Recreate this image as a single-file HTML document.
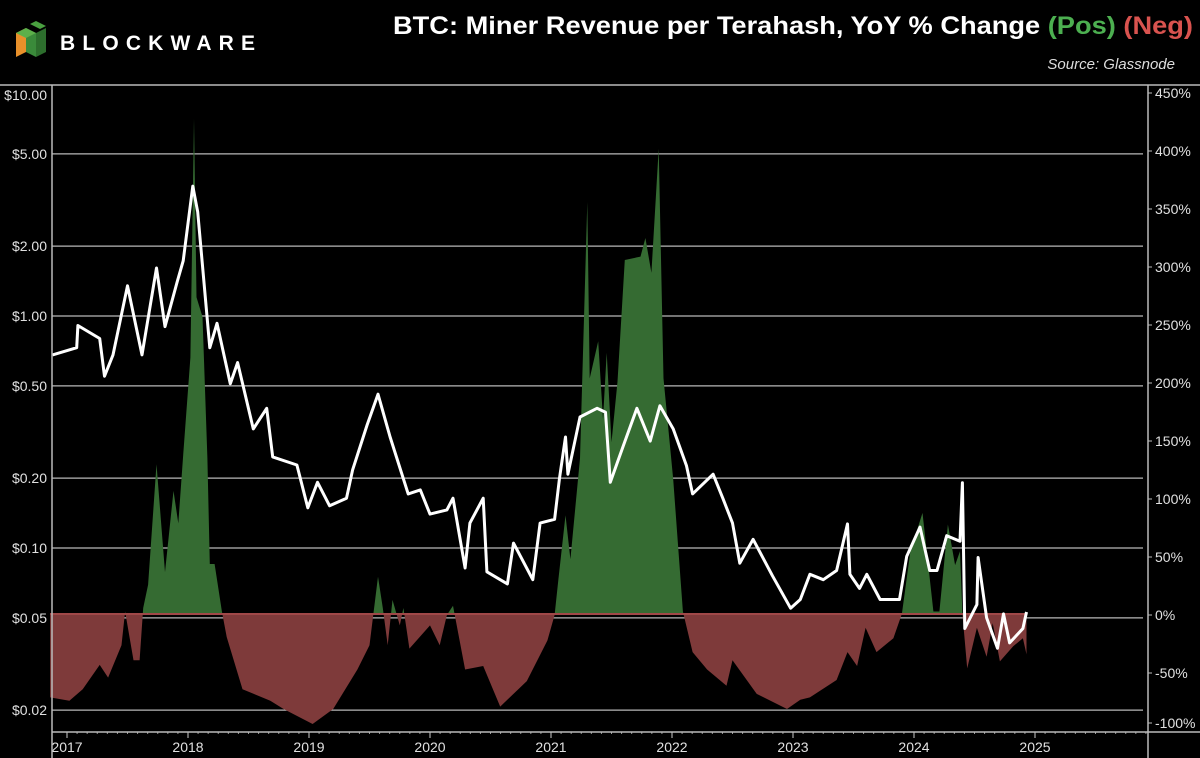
<!DOCTYPE html>
<html><head><meta charset="utf-8"><style>
html,body{margin:0;padding:0;background:#000;}
svg{display:block;font-family:"Liberation Sans",sans-serif;}
</style></head><body>
<svg id="chart" width="1200" height="758" viewBox="0 0 1200 758">
<rect x="0" y="0" width="1200" height="758" fill="#000"/>
<g>
<polygon points="16,33 26,28 26,52 16,57" fill="#e8902a"/>
<polygon points="26,28 36,33 36,57 26,52" fill="#3a8a3a"/>
<polygon points="16,33 26,28 36,33 26,38" fill="#5cb04a"/>
<polygon points="30,24 40,29 46,26 36,21" fill="#4aa040"/>
<polygon points="36,33 46,28 46,52 36,57" fill="#2d6e2d"/>
<text x="60" y="50" fill="#fff" font-size="21" font-weight="bold" letter-spacing="3" textLength="198" lengthAdjust="spacing">BLOCKWARE</text>
</g>
<text x="1193" y="34" text-anchor="end" font-size="25" font-weight="bold" fill="#fff" textLength="800" lengthAdjust="spacingAndGlyphs">BTC: Miner Revenue per Terahash, YoY % Change <tspan fill="#4caf50">(Pos)</tspan> <tspan fill="#d9534f">(Neg)</tspan></text>
<text x="1175" y="69" text-anchor="end" font-size="15" font-style="italic" fill="#ddd">Source: Glassnode</text>
<line x1="0" y1="85" x2="1200" y2="85" stroke="#bbb" stroke-width="1.5"/>
<g id="grid"></g>
<g id="areas"></g>
<g id="line"></g>
<g id="axes"></g>
</svg>
<script>
// ---- data ----
const priceDates = [2016.88,2017.08,2017.09,2017.27,2017.31,2017.38,2017.50,2017.62,2017.74,2017.81,2017.91,2017.96,2018.04,2018.08,2018.18,2018.24,2018.35,2018.41,2018.54,2018.65,2018.70,2018.90,2018.99,2019.07,2019.17,2019.31,2019.36,2019.48,2019.57,2019.67,2019.82,2019.92,2020.00,2020.14,2020.19,2020.29,2020.33,2020.44,2020.47,2020.64,2020.69,2020.85,2020.91,2021.03,2021.07,2021.12,2021.14,2021.24,2021.38,2021.45,2021.49,2021.60,2021.71,2021.82,2021.90,2022.01,2022.12,2022.17,2022.34,2022.42,2022.50,2022.56,2022.67,2022.83,2022.98,2023.06,2023.14,2023.25,2023.36,2023.45,2023.47,2023.55,2023.61,2023.72,2023.88,2023.94,2024.05,2024.13,2024.19,2024.27,2024.38,2024.40,2024.42,2024.52,2024.53,2024.60,2024.69,2024.74,2024.79,2024.90,2024.93];
const priceValues = [0.68,0.73,0.91,0.80,0.55,0.68,1.35,0.68,1.61,0.90,1.40,1.73,3.63,2.81,0.73,0.93,0.51,0.63,0.326,0.40,0.247,0.228,0.149,0.192,0.152,0.164,0.217,0.339,0.46,0.301,0.171,0.178,0.140,0.146,0.164,0.082,0.128,0.164,0.079,0.070,0.105,0.073,0.128,0.133,0.200,0.301,0.208,0.367,0.40,0.385,0.192,0.278,0.40,0.289,0.41,0.326,0.226,0.171,0.208,0.164,0.128,0.086,0.109,0.076,0.055,0.060,0.077,0.073,0.080,0.127,0.077,0.067,0.077,0.060,0.060,0.092,0.123,0.080,0.080,0.113,0.107,0.191,0.045,0.057,0.091,0.050,0.037,0.052,0.039,0.045,0.053];
const yoyDates = [2016.86,2017.02,2017.13,2017.27,2017.34,2017.45,2017.48,2017.55,2017.60,2017.63,2017.67,2017.74,2017.81,2017.88,2017.92,2017.96,2018.02,2018.05,2018.07,2018.12,2018.16,2018.18,2018.22,2018.28,2018.32,2018.45,2018.68,2018.79,2019.03,2019.20,2019.40,2019.50,2019.57,2019.61,2019.65,2019.69,2019.75,2019.78,2019.83,2020.00,2020.08,2020.14,2020.19,2020.29,2020.44,2020.58,2020.80,2020.97,2021.03,2021.06,2021.12,2021.16,2021.24,2021.30,2021.32,2021.39,2021.43,2021.46,2021.50,2021.55,2021.61,2021.74,2021.78,2021.83,2021.89,2021.93,2022.01,2022.09,2022.17,2022.29,2022.45,2022.50,2022.70,2022.95,2023.06,2023.14,2023.36,2023.45,2023.53,2023.60,2023.69,2023.83,2023.90,2023.97,2024.07,2024.16,2024.21,2024.28,2024.34,2024.38,2024.40,2024.44,2024.52,2024.60,2024.65,2024.71,2024.82,2024.90,2024.93];
const yoyValues = [-71,-74,-64,-43,-54,-26,3,-39,-39,6,26,130,37,107,79,138,222,428,274,257,135,44,44,3,-19,-64,-74,-81,-94,-81,-47,-26,33,6,-26,13,-9,6,-29,-9,-26,0,8,-47,-44,-79,-57,-22,0,30,86,48,135,356,204,236,169,226,149,201,306,309,325,295,402,204,117,3,-32,-47,-61,-39,-68,-81,-73,-71,-56,-32,-44,-11,-32,-20,1,55,88,3,3,78,43,55,1,-46,-11,-36,-7,-40,-27,-20,-34];
const priceTicks = [10,5,2,1,0.5,0.2,0.1,0.05,0.02];
const priceTickLabels = ["$10.00","$5.00","$2.00","$1.00","$0.50","$0.20","$0.10","$0.05","$0.02"];
const pctTicks = [450,400,350,300,250,200,150,100,50,0,-50,-100];
const yearTicks = [2017,2018,2019,2020,2021,2022,2023,2024,2025];

// ---- scales ----
const L=52,R=1148,T=85,B=732;
const xS = yr => 67 + (yr-2017)*121;
const yP = v => 316 - 232*Math.log10(v);
const yQ = p => 615 - p*1.16;
const NS="http://www.w3.org/2000/svg";
function mk(tag, attrs, parent){const e=document.createElementNS(NS,tag);for(const k in attrs)e.setAttribute(k,attrs[k]);parent.appendChild(e);return e;}

const grid=document.getElementById('grid');
const axes=document.getElementById('axes');
priceTicks.forEach((v,i)=>{
  const y=yP(v);
  if(v<10){
    const gl=mk('line',{x1:L,x2:R-5,y1:y,y2:y,stroke:'#b8b8b8','stroke-width':1.2},grid);
    
    
  }
  const t=mk('text',{x:47,y:(v===10?95:y)+5,'text-anchor':'end','font-size':14,fill:'#e0e0e0'},axes);
  t.textContent=priceTickLabels[i];
  
  
});
pctTicks.forEach(p=>{
  const y = p===-100 ? 723 : yQ(p);
  mk('line',{x1:R,x2:R+4,y1:y,y2:y,stroke:'#bbb'},axes);
  const t=mk('text',{x:R+7,y:y+5,'font-size':14,fill:'#e0e0e0'},axes);
  t.textContent=p+'%';
  
  
});
yearTicks.forEach(yr=>{
  const x=xS(yr);
  mk('line',{x1:x,x2:x,y1:B,y2:B+6,stroke:'#ccc'},axes);
  for(let m=1;m<12;m++){const xm=x+m*121/12; if(xm<R) mk('line',{x1:xm,x2:xm,y1:B,y2:B+2,stroke:'#999'},axes);}
  const t=mk('text',{x:x,y:752,'text-anchor':'middle','font-size':14,fill:'#e0e0e0'},axes);
  t.textContent=yr;
  
  
});
const la=mk('line',{x1:L,x2:L,y1:T,y2:758,stroke:'#bbb','stroke-width':1.5},axes);


const ra=mk('line',{x1:R,x2:R,y1:T,y2:758,stroke:'#bbb','stroke-width':1.5},axes);


const ba=mk('line',{x1:L,x2:1200,y1:B,y2:B,stroke:'#bbb','stroke-width':1.5},axes);



// ---- YoY areas ----
const areas=document.getElementById('areas');
const defs=mk('defs',{},areas);
const z=yQ(0);
const cp1=mk('clipPath',{id:'above'},defs); mk('rect',{x:0,y:0,width:1200,height:z},cp1);
const cp2=mk('clipPath',{id:'below'},defs); mk('rect',{x:0,y:z,width:1200,height:758-z},cp2);
let d='M'+xS(yoyDates[0]).toFixed(1)+','+z;
yoyDates.forEach((t,i)=>{d+=' L'+xS(t).toFixed(1)+','+yQ(yoyValues[i]).toFixed(1);});
d+=' L'+xS(yoyDates[yoyDates.length-1]).toFixed(1)+','+z+' Z';
const pos=mk('path',{d:d,fill:'#356b32','clip-path':'url(#above)'},areas);


const neg=mk('path',{d:d,fill:'#7e3a3a','clip-path':'url(#below)'},areas);


const zl=mk('line',{x1:xS(yoyDates[0]),x2:xS(yoyDates[yoyDates.length-1]),y1:z-1,y2:z-1,stroke:'#a04848','stroke-width':2},areas);



// ---- price line ----
const lineG=document.getElementById('line');
let pd='';
priceDates.forEach((t,i)=>{pd+=(i?' L':'M')+xS(t).toFixed(1)+','+yP(priceValues[i]).toFixed(1);});
const pl=mk('path',{d:pd,fill:'none',stroke:'#fff','stroke-width':3,'stroke-linejoin':'round'},lineG);


</script>
</body></html>
